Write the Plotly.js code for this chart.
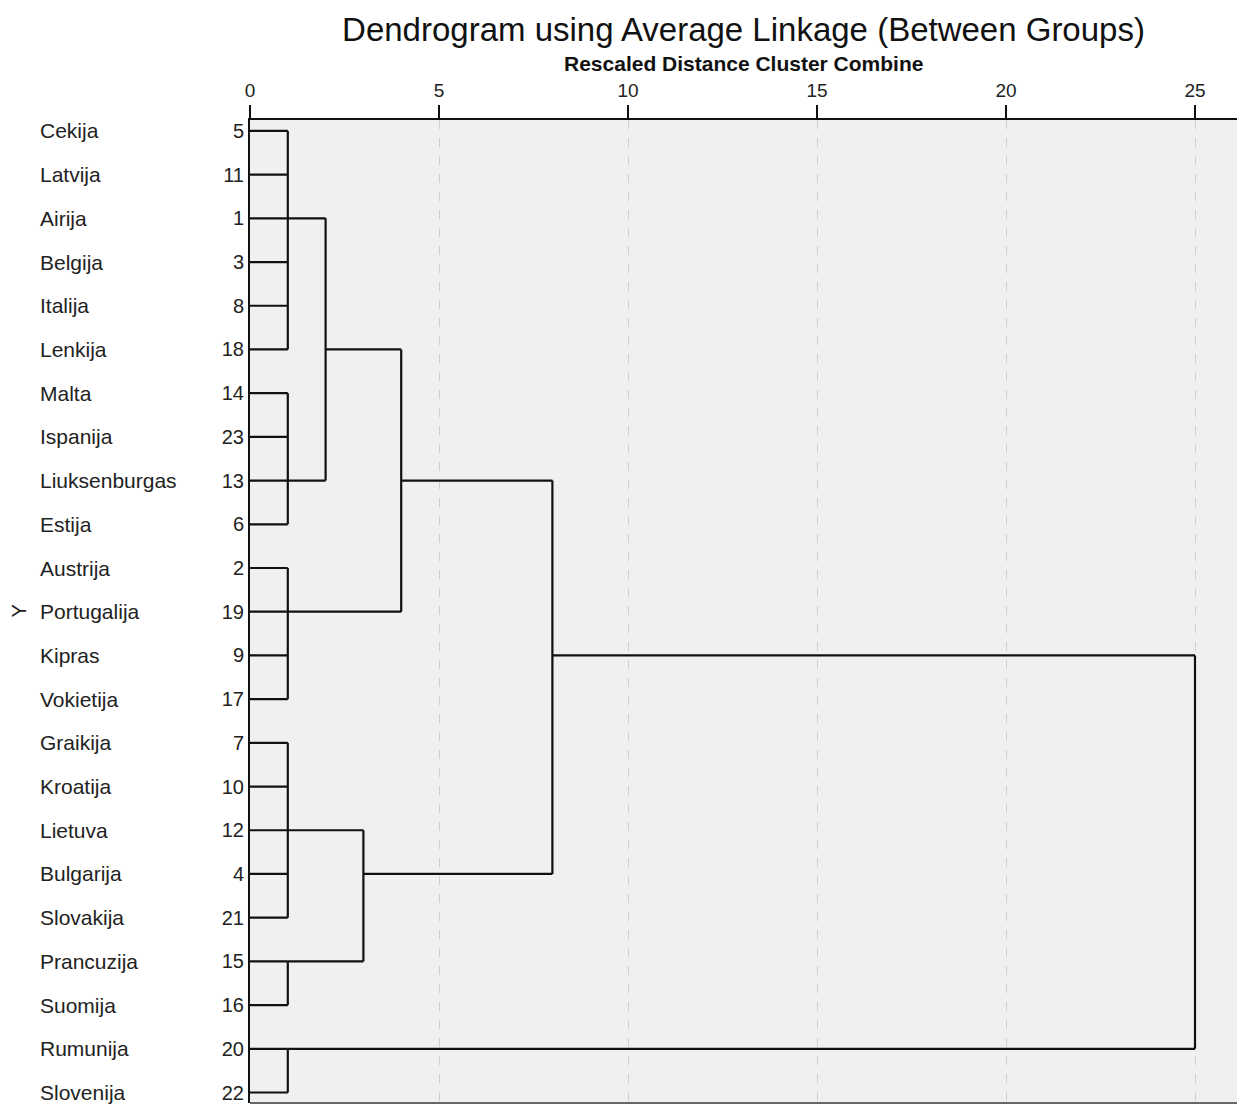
<!DOCTYPE html>
<html>
<head>
<meta charset="utf-8">
<script src="https://cdn.plot.ly/plotly-3.0.1.min.js"></script>
<style>
  html, body { margin: 0; padding: 0; background: #ffffff; }
  #chart { width: 1237px; height: 1108px; }
</style>
</head>
<body>
<div id="chart"></div>
<script>
// ---- Data ----
const countries = ["Cekija","Latvija","Airija","Belgija","Italija","Lenkija","Malta","Ispanija",
  "Liuksenburgas","Estija","Austrija","Portugalija","Kipras","Vokietija","Graikija","Kroatija",
  "Lietuva","Bulgarija","Slovakija","Prancuzija","Suomija","Rumunija","Slovenija"];
const caseIds = [5,11,1,3,8,18,14,23,13,6,2,19,9,17,7,10,12,4,21,15,16,20,22];

// Merges: children are node ids (leaves 0..22, merge k creates node 23+k)
const mergeChildren = [
  [0,1,2,3,4,5],
  [6,7,8,9],
  [10,11,12,13],
  [14,15,16,17,18],
  [19,20],
  [21,22],
  [23,24],
  [29,25],
  [26,27],
  [30,31],
  [32,28]
];
const mergeHeights = [1,1,1,1,1,1,2,4,3,8,25];
const mergeRows    = [2,8,11,16,19,21,5,8,17,12,12];

const xTickVals = [0,5,10,15,20,25];

// ---- Build dendrogram segments ----
const nLeaves = countries.length;
const nodeRow = [], nodeH = [];
for (let i = 0; i < nLeaves; i++) { nodeRow.push(i); nodeH.push(0); }
const xs = [], ys = [];
mergeChildren.forEach((ch, m) => {
  const h = mergeHeights[m];
  const rows = ch.map(c => nodeRow[c]);
  ch.forEach(c => {
    xs.push(nodeH[c], h, null);
    ys.push(nodeRow[c], nodeRow[c], null);
  });
  xs.push(h, h, null);
  ys.push(Math.min(...rows), Math.max(...rows), null);
  nodeRow.push(mergeRows[m]);
  nodeH.push(h);
});

const rowIdx = countries.map((_, i) => i);

const trace = {
  type: 'scatter',
  mode: 'lines',
  x: xs,
  y: ys,
  line: { color: '#111111', width: 2.2 },
  hoverinfo: 'skip',
  showlegend: false,
  cliponaxis: false
};

const FONT = '"Liberation Sans", Arial, sans-serif';
const plotLeft = 250, plotW = 1237 - 250, plotTop = 120, plotH = 1103 - 120;

const annotations = countries.map((name, i) => ({
  text: name,
  xref: 'paper', yref: 'y',
  x: -(plotLeft - 38) / plotW, y: i,
  xanchor: 'left', yanchor: 'middle',
  showarrow: false,
  font: { family: FONT, size: 21, color: '#222222' }
}));
annotations.push({
  text: 'Y',
  xref: 'paper', yref: 'paper',
  x: -(plotLeft - 18) / plotW, y: 0.5,
  xanchor: 'center', yanchor: 'middle',
  textangle: -90,
  showarrow: false,
  font: { family: FONT, size: 20, color: '#222222' }
});
annotations.push({
  text: '<b>Rescaled Distance Cluster Combine</b>',
  xref: 'paper', yref: 'paper',
  x: 0.5, y: 1 + (plotTop - 63) / plotH,
  xanchor: 'center', yanchor: 'middle',
  showarrow: false,
  font: { family: FONT, size: 21, color: '#111111' }
});

const layout = {
  width: 1237,
  height: 1108,
  margin: { l: 250, r: 0, t: 120, b: 5, pad: 0 },
  paper_bgcolor: '#ffffff',
  plot_bgcolor: '#f0f0f0',
  title: {
    text: 'Dendrogram using Average Linkage (Between Groups)',
    font: { family: FONT, size: 33, color: '#111111' },
    xref: 'paper', x: 0.5, xanchor: 'center',
    yref: 'container', y: 1 - 29 / 1108, yanchor: 'middle'
  },
  xaxis: {
    side: 'top',
    range: [0, (1237 - 250) / 37.8],
    tickvals: xTickVals,
    ticktext: xTickVals.map(String),
    ticks: 'outside', ticklen: 13, tickwidth: 2, tickcolor: '#111111',
    showline: true, linecolor: '#111111', linewidth: 2,
    showgrid: true, gridcolor: '#cfcfcf', griddash: 'dash', gridwidth: 1,
    zeroline: false,
    tickfont: { family: FONT, size: 19, color: '#222222' },
    fixedrange: true
  },
  yaxis: {
    range: [22.24, -0.25],
    tickvals: rowIdx,
    ticktext: caseIds.map(String),
    ticks: '',
    showline: true, linecolor: '#111111', linewidth: 2,
    showgrid: false, zeroline: false,
    tickfont: { family: FONT, size: 20, color: '#222222' },
    fixedrange: true
  },
  shapes: [{
    type: 'line', xref: 'paper', yref: 'paper',
    x0: 0, x1: 1, y0: 0, y1: 0,
    line: { color: '#666666', width: 2 }
  }],
  annotations: annotations
};

Plotly.newPlot('chart', [trace], layout, { displayModeBar: false, staticPlot: true });
</script>
</body>
</html>
